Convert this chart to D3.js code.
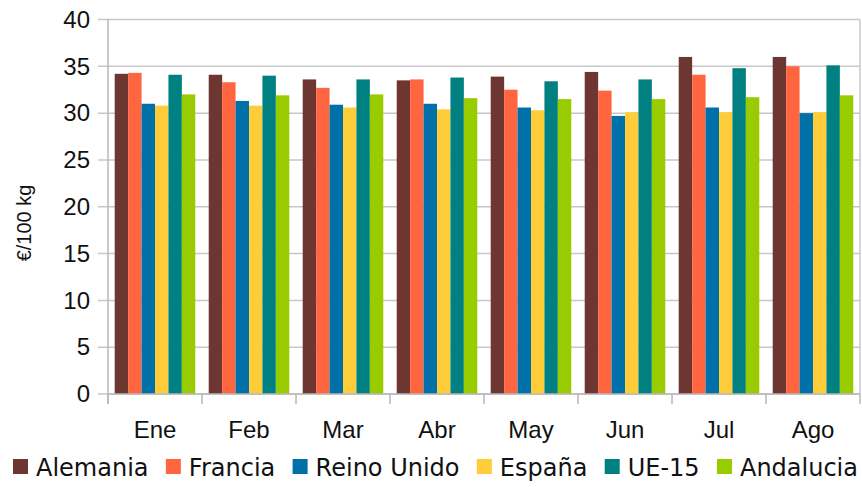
<!DOCTYPE html>
<html lang="es">
<head>
<meta charset="UTF-8">
<title>€/100 kg</title>
<script src="https://cdn.jsdelivr.net/npm/d3@7"></script>
<style>
  body { margin: 0; background: #fff; }
  svg { display: block; }
</style>
</head>
<body>
<script>
  const width = 862
  const height = 487

  // datos
  const months = ['Ene', 'Feb', 'Mar', 'Abr', 'May', 'Jun', 'Jul', 'Ago']
  const series = ['Alemania', 'Francia', 'Reino Unido', 'España', 'UE-15', 'Andalucia']
  const alemania   = [34.2, 34.1, 33.6, 33.5, 33.9, 34.4, 36.0, 36.0]
  const francia    = [34.3, 33.3, 32.7, 33.6, 32.5, 32.4, 34.1, 35.0]
  const reinoUnido = [31.0, 31.3, 30.9, 31.0, 30.6, 29.7, 30.6, 30.0]
  const espana     = [30.8, 30.8, 30.6, 30.4, 30.3, 30.1, 30.1, 30.1]
  const ue15       = [34.1, 34.0, 33.6, 33.8, 33.4, 33.6, 34.8, 35.1]
  const andalucia  = [32.0, 31.9, 32.0, 31.6, 31.5, 31.5, 31.7, 31.9]
  const yTicks = [0, 5, 10, 15, 20, 25, 30, 35, 40]
  const colors = ['#6e3630', '#ff6640', '#0070a8', '#ffcc3a', '#008080', '#99cc00']

  const values = [alemania, francia, reinoUnido, espana, ue15, andalucia]

  const margin = { top: 19.5, right: 2, bottom: 93, left: 108 }

  const svg = d3.select('body').append('svg')
    .attr('width', width)
    .attr('height', height)

  const x0 = d3.scaleBand()
    .domain(months)
    .range([margin.left, width - margin.right])
    .padding(0)

  const x1 = d3.scaleBand()
    .domain(series)
    .range([0, x0.bandwidth()])
    .paddingInner(0)
    .paddingOuter(0.5)

  const y = d3.scaleLinear()
    .domain([0, 40])
    .range([height - margin.bottom, margin.top])

  const color = d3.scaleOrdinal().domain(series).range(colors)

  // rejilla horizontal
  svg.append('g')
    .selectAll('line')
    .data(yTicks)
    .enter()
    .append('line')
    .attr('x1', margin.left - 10)
    .attr('x2', width - margin.right)
    .attr('y1', d => y(d))
    .attr('y2', d => y(d))
    .attr('stroke', '#c8c8c8')
    .attr('stroke-width', 1.5)

  // borde derecho
  svg.append('line')
    .attr('x1', width - margin.right).attr('x2', width - margin.right)
    .attr('y1', y(40)).attr('y2', y(0))
    .attr('stroke', '#c8c8c8')
    .attr('stroke-width', 1.5)

  // barras
  const groups = svg.append('g')
    .selectAll('g')
    .data(months)
    .enter()
    .append('g')
    .attr('transform', d => `translate(${x0(d)},0)`)

  groups.selectAll('rect')
    .data((m, i) => series.map((s, j) => ({ s: s, v: values[j][i] })))
    .enter()
    .append('rect')
    .attr('x', d => x1(d.s))
    .attr('width', x1.bandwidth())
    .attr('y', d => y(d.v))
    .attr('height', d => y(0) - y(d.v))
    .attr('fill', d => color(d.s))

  // eje y
  const yAxis = svg.append('g')
    .attr('transform', `translate(${margin.left},0)`)
    .call(d3.axisLeft(y).tickValues(yTicks).tickSize(0).tickPadding(18))
  yAxis.select('.domain').remove()
  yAxis.selectAll('text')
    .attr('font-family', 'Liberation Sans, Arial, sans-serif')
    .attr('font-size', 24)
    .attr('fill', '#111')

  svg.append('line')
    .attr('x1', margin.left).attr('x2', margin.left)
    .attr('y1', y(40)).attr('y2', y(0) + 10)
    .attr('stroke', '#b8b8b8')
    .attr('stroke-width', 1.5)

  // eje x
  svg.append('line')
    .attr('x1', margin.left).attr('x2', width - margin.right)
    .attr('y1', y(0)).attr('y2', y(0))
    .attr('stroke', '#b8b8b8')
    .attr('stroke-width', 1.5)

  const bounds = months.map(m => x0(m)).concat([width - margin.right])
  svg.append('g')
    .selectAll('line')
    .data(bounds)
    .enter()
    .append('line')
    .attr('x1', d => d).attr('x2', d => d)
    .attr('y1', y(0)).attr('y2', y(0) + 10)
    .attr('stroke', '#b8b8b8')
    .attr('stroke-width', 1.5)

  svg.append('g')
    .selectAll('text')
    .data(months)
    .enter()
    .append('text')
    .attr('x', d => x0(d) + x0.bandwidth() / 2)
    .attr('y', y(0) + 44)
    .attr('text-anchor', 'middle')
    .attr('font-family', 'Liberation Sans, Arial, sans-serif')
    .attr('font-size', 24)
    .attr('fill', '#111')
    .text(d => d)

  // título eje y
  svg.append('text')
    .attr('transform', `translate(31,223) rotate(-90)`)
    .attr('text-anchor', 'middle')
    .attr('font-family', 'Liberation Sans, Arial, sans-serif')
    .attr('font-size', 20)
    .attr('fill', '#111')
    .text('€/100 kg')

  // leyenda: de x=13 a x=858
  const legend = svg.append('g').attr('transform', 'translate(13,467)')
  const items = series.map((s, i) => {
    const item = legend.append('g')
    item.append('rect')
      .attr('x', 0).attr('y', -8)
      .attr('width', 15).attr('height', 15)
      .attr('fill', colors[i])
    const t = item.append('text')
      .attr('x', 23).attr('y', 8.5)
      .attr('font-family', 'DejaVu Sans, sans-serif')
      .attr('font-size', 24)
      .attr('fill', '#111')
      .text(s)
    return { item, w: 23 + t.node().getComputedTextLength() }
  })
  const used = d3.sum(items, d => d.w)
  const gap = (845 - used) / (items.length - 1)
  let lx = 0
  items.forEach(d => {
    d.item.attr('transform', `translate(${lx},0)`)
    lx += d.w + gap
  })
</script>
</body>
</html>
